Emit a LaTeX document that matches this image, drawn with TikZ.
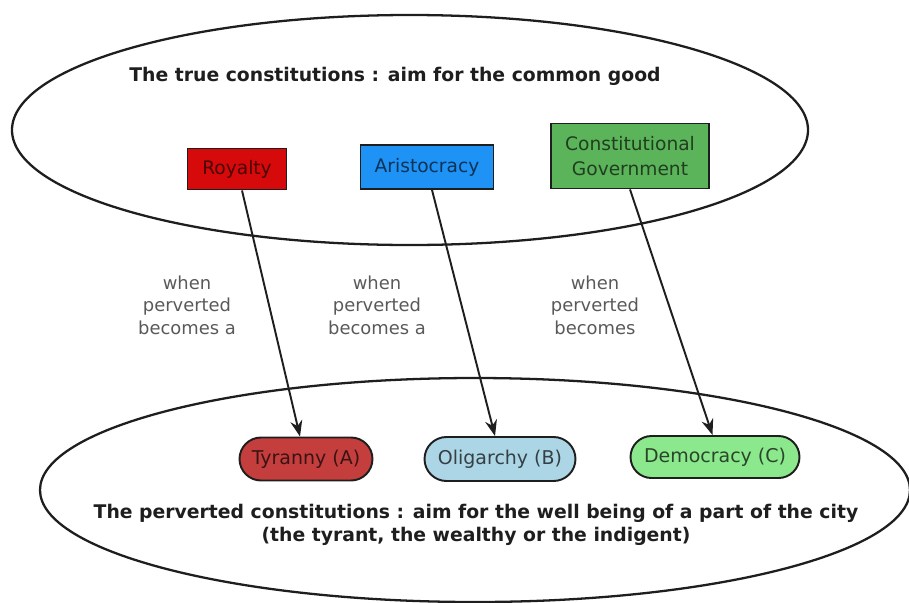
\documentclass[tikz,border=0pt]{standalone}
\usepackage{fontspec}
\setmainfont{DejaVu Sans}
\usetikzlibrary{arrows.meta,shapes.geometric,shapes.misc}
\definecolor{royal}{RGB}{214,10,10}
\definecolor{aristo}{RGB}{30,146,245}
\definecolor{consti}{RGB}{92,180,90}
\definecolor{tyran}{RGB}{196,62,62}
\definecolor{oligo}{RGB}{172,214,230}
\definecolor{demo}{RGB}{140,232,140}
\definecolor{ink}{RGB}{30,30,30}
\tikzset{
  >={Stealth[length=3.2mm,width=2.4mm]},
  realm/.style={ellipse,draw=ink,line width=1.3pt,inner sep=0pt},
  good/.style={draw=ink,fill=#1,line width=1.1pt,text=#1!35!black,
    align=center,font=\fontsize{10.6}{14.5}\selectfont,inner sep=2pt},
  bad/.style={draw=ink,fill=#1,line width=1.1pt,rounded rectangle,text=#1!30!black,
    font=\fontsize{10.8}{13}\selectfont,inner sep=2pt},
  turn/.style={->,line width=1.1pt,draw=ink},
  note/.style={font=\fontsize{10.2}{12.8}\selectfont,text=black!65,align=center},
  head/.style={font=\fontsize{10.7}{13.5}\selectfont\bfseries,text=ink,align=center},
}
\begin{document}
\begin{tikzpicture}[x=0.02cm,y=-0.02cm]
  \useasboundingbox (0,0) rectangle (909,602);
  % the two families of constitutions
  \node[realm,minimum width=796*0.02cm,minimum height=230*0.02cm] (true) at (410,130) {};
  \node[realm,minimum width=870*0.02cm,minimum height=224*0.02cm] (pervert) at (475,490) {};
  \node[head] (truehead) at (395,76) {The true constitutions : aim for the common good};
  \node[head] (badhead) at (476,525) {The perverted constitutions : aim for the well being of a part of the city\\(the tyrant, the wealthy or the indigent)};
  % good forms
  \node[good=royal,minimum width=99*0.02cm,minimum height=41*0.02cm] (roy) at (237,169) {Royalty};
  \node[good=aristo,minimum width=133*0.02cm,minimum height=44*0.02cm] (ari) at (427,167) {Aristocracy};
  \node[good=consti,minimum width=158*0.02cm,minimum height=65*0.02cm] (con) at (630,156) {Constitutional\\Government};
  % perverted forms
  \node[bad=tyran,minimum width=140*0.02cm,minimum height=43*0.02cm] (tyr) at (306,459) {Tyranny (A)};
  \node[bad=oligo,minimum width=158*0.02cm,minimum height=44*0.02cm] (oli) at (500,459) {Oligarchy (B)};
  \node[bad=demo,minimum width=176*0.02cm,minimum height=42*0.02cm] (dem) at (715,457) {Democracy (C)};
  \draw[turn] ([xshift=1mm]roy.south) -- ([xshift=-1.2mm]tyr.north);
  \draw[turn] ([xshift=1mm]ari.south) -- ([xshift=-1mm]oli.north);
  \draw[turn] (con.south) -- ([xshift=-0.5mm]dem.north);
  \node[note] (n1) at (187,305) {when\\perverted\\becomes a};
  \node[note] (n2) at (377,305) {when\\perverted\\becomes a};
  \node[note] (n3) at (595,305) {when\\perverted\\becomes};
\end{tikzpicture}
\end{document}
